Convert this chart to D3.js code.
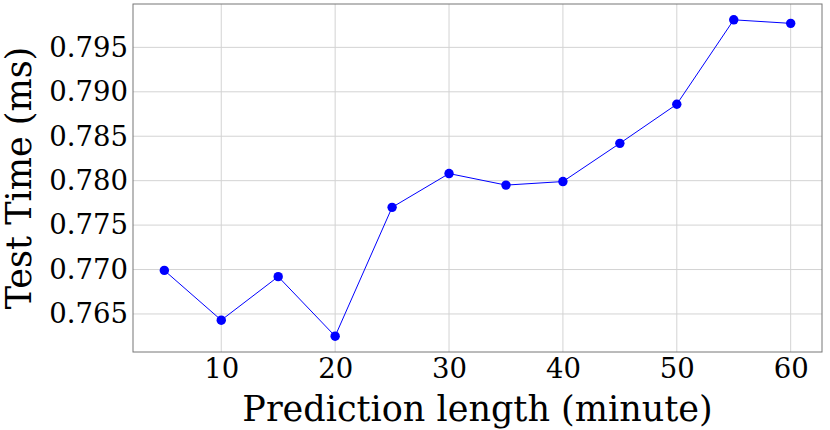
<!DOCTYPE html>
<html><head><meta charset="utf-8">
<script src="https://cdn.jsdelivr.net/npm/d3@7"></script>
<style>body{margin:0;background:#fff}svg{display:block}text{font-family:"DejaVu Serif",serif;fill:#000}</style>
</head><body><svg id="c" width="830" height="430"></svg>
<script>
const predictionLength = [5,10,15,20,25,30,35,40,45,50,55,60];
const testTime = [0.7699,0.7643,0.7692,0.7625,0.7770,0.7808,0.7795,0.7799,0.7842,0.7886,0.7981,0.7977];
const xTicks = [10,20,30,40,50,60];
const yTicks = [0.765,0.770,0.775,0.780,0.785,0.790,0.795];
const xLabel = "Prediction length (minute)";
const yLabel = "Test Time (ms)";

const svg = d3.select("#c");
const L=133, R=822, T=4, B=352;
const xmin=d3.min(predictionLength), xmax=d3.max(predictionLength);
const ymin=d3.min(testTime), ymax=d3.max(testTime);
const xm=(xmax-xmin)*0.05, ym=(ymax-ymin)*0.05;
const x=d3.scaleLinear().domain([xmin-xm,xmax+xm]).range([L,R]);
const y=d3.scaleLinear().domain([ymin-ym,ymax+ym]).range([B,T]);

// grid
svg.append("g").selectAll("line").data(xTicks).join("line")
  .attr("x1",d=>x(d)).attr("x2",d=>x(d)).attr("y1",T).attr("y2",B)
  .attr("stroke","#d3d3d3").attr("stroke-width",1);
svg.append("g").selectAll("line").data(yTicks).join("line")
  .attr("y1",d=>y(d)).attr("y2",d=>y(d)).attr("x1",L).attr("x2",R)
  .attr("stroke","#d3d3d3").attr("stroke-width",1);

// axes
const xa=svg.append("g").attr("transform",`translate(0,${B})`)
  .call(d3.axisBottom(x).tickValues(xTicks).tickSize(0).tickPadding(6).tickFormat(d3.format("d")));
const ya=svg.append("g").attr("transform",`translate(${L},0)`)
  .call(d3.axisLeft(y).tickValues(yTicks).tickSize(0).tickPadding(5).tickFormat(d3.format(".3f")));
[xa,ya].forEach(g=>{g.select(".domain").remove();g.selectAll("text").style("font-family","DejaVu Serif").style("font-size","27.5px").attr("fill","#000");});

svg.append("rect").attr("x",L).attr("y",T).attr("width",R-L).attr("height",B-T)
  .attr("fill","none").attr("stroke","#777").attr("stroke-width",1);

// line
svg.append("path").datum(predictionLength.map((d,i)=>[d,testTime[i]]))
  .attr("fill","none").attr("stroke","#0000ff").attr("stroke-width",1)
  .attr("d",d3.line().x(d=>x(d[0])).y(d=>y(d[1])));
svg.append("g").selectAll("circle").data(predictionLength).join("circle")
  .attr("cx",d=>x(d)).attr("cy",(d,i)=>y(testTime[i])).attr("r",4.7).attr("fill","#0000ff");

// labels
svg.append("text").attr("x",(L+R)/2).attr("y",421).attr("text-anchor","middle")
  .style("font-size","35px").text(xLabel);
svg.append("text").attr("transform",`translate(31,${(T+B)/2}) rotate(-90)`).attr("text-anchor","middle")
  .style("font-size","35px").text(yLabel);
</script></body></html>
